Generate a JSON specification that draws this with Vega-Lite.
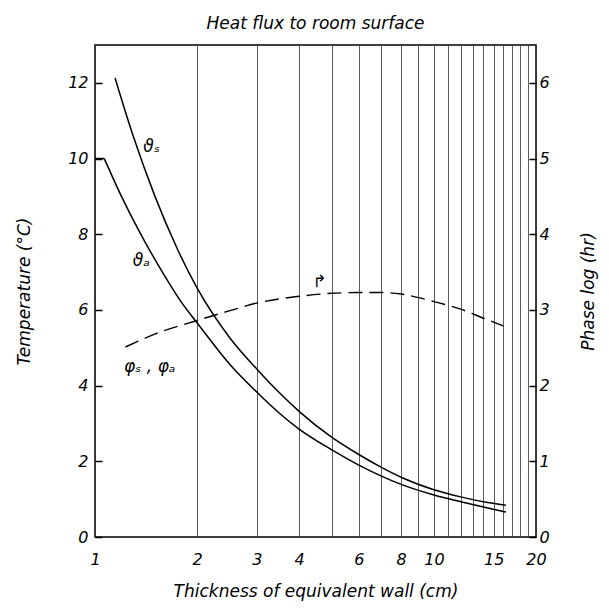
{
  "$schema": "https://vega.github.io/schema/vega-lite/v6.json",
  "width": 441,
  "height": 492,
  "autosize": {"type": "none"},
  "padding": {"left": 95, "top": 45, "right": 73, "bottom": 77},
  "background": "white",
  "title": {"text": "Heat flux to room surface", "font": "DejaVu Sans", "fontSize": 17, "fontStyle": "italic", "fontWeight": "normal", "color": "black", "offset": 12},
  "config": {
    "view": {"stroke": "black", "strokeWidth": 1.5},
    "font": "DejaVu Sans",
    "axis": {
      "labelFont": "DejaVu Sans", "labelFontSize": 16, "labelFontStyle": "italic", "labelColor": "black",
      "titleFont": "DejaVu Sans", "titleFontSize": 17, "titleFontStyle": "italic", "titleFontWeight": "normal", "titleColor": "black",
      "domain": false, "tickColor": "black"
    }
  },
  "datasets": {
    "temps": [
      {"x": 1.146, "T": 12.13, "series": "vs"},
      {"x": 1.3, "T": 10.56, "series": "vs"},
      {"x": 1.5, "T": 9.02, "series": "vs"},
      {"x": 1.75, "T": 7.61, "series": "vs"},
      {"x": 2, "T": 6.58, "series": "vs"},
      {"x": 2.5, "T": 5.26, "series": "vs"},
      {"x": 3, "T": 4.44, "series": "vs"},
      {"x": 3.5, "T": 3.81, "series": "vs"},
      {"x": 4, "T": 3.32, "series": "vs"},
      {"x": 5, "T": 2.63, "series": "vs"},
      {"x": 6, "T": 2.18, "series": "vs"},
      {"x": 7, "T": 1.84, "series": "vs"},
      {"x": 8, "T": 1.58, "series": "vs"},
      {"x": 10, "T": 1.25, "series": "vs"},
      {"x": 12, "T": 1.06, "series": "vs"},
      {"x": 14, "T": 0.93, "series": "vs"},
      {"x": 16.3, "T": 0.84, "series": "vs"},
      {"x": 1, "T": 10, "series": "va0"},
      {"x": 1.065, "T": 10, "series": "va0"},
      {"x": 1.065, "T": 10, "series": "va"},
      {"x": 1.2, "T": 8.98, "series": "va"},
      {"x": 1.4, "T": 7.82, "series": "va"},
      {"x": 1.6, "T": 6.92, "series": "va"},
      {"x": 1.8, "T": 6.2, "series": "va"},
      {"x": 2, "T": 5.66, "series": "va"},
      {"x": 2.5, "T": 4.56, "series": "va"},
      {"x": 3, "T": 3.83, "series": "va"},
      {"x": 3.5, "T": 3.27, "series": "va"},
      {"x": 4, "T": 2.85, "series": "va"},
      {"x": 5, "T": 2.3, "series": "va"},
      {"x": 6, "T": 1.9, "series": "va"},
      {"x": 7, "T": 1.61, "series": "va"},
      {"x": 8, "T": 1.39, "series": "va"},
      {"x": 10, "T": 1.11, "series": "va"},
      {"x": 12, "T": 0.93, "series": "va"},
      {"x": 14, "T": 0.79, "series": "va"},
      {"x": 16.3, "T": 0.66, "series": "va"}
    ],
    "phase": [
      {"x": 1.23, "lag": 2.51},
      {"x": 1.5, "lag": 2.68},
      {"x": 2, "lag": 2.86},
      {"x": 2.5, "lag": 2.99},
      {"x": 3, "lag": 3.09},
      {"x": 4, "lag": 3.18},
      {"x": 5, "lag": 3.22},
      {"x": 6, "lag": 3.23},
      {"x": 7, "lag": 3.23},
      {"x": 8, "lag": 3.21},
      {"x": 10, "lag": 3.11},
      {"x": 12, "lag": 3.01},
      {"x": 14, "lag": 2.89},
      {"x": 16, "lag": 2.79}
    ],
    "labels": [
      {"x": 1.47, "T": 10.3, "text": "ϑₛ"},
      {"x": 1.37, "T": 7.3, "text": "ϑₐ"},
      {"x": 1.45, "T": 4.5, "text": "φₛ , φₐ"},
      {"x": 4.6, "T": 6.75, "text": "↱"}
    ]
  },
  "layer": [
    {
      "data": {"name": "temps"},
      "mark": {"type": "line", "color": "black", "strokeWidth": 1.5, "interpolate": "monotone"},
      "encoding": {
        "x": {
          "field": "x", "type": "quantitative",
          "scale": {"type": "log", "domain": [1, 20], "nice": false},
          "axis": {
            "title": "Thickness of equivalent wall (cm)",
            "values": [1, 2, 3, 4, 5, 6, 7, 8, 9, 10, 11, 12, 13, 14, 15, 16, 17, 18, 19, 20],
            "labelExpr": "indexof([1,2,3,4,6,8,10,15,20], datum.value) >= 0 ? datum.value : ''",
            "grid": true, "gridColor": "#333333", "gridWidth": 0.8, "gridOpacity": 1,
            "ticks": false, "labelPadding": 14, "titlePadding": 16, "labelFlush": false
          }
        },
        "y": {
          "field": "T", "type": "quantitative",
          "scale": {"domain": [0, 13], "nice": false},
          "axis": {
            "orient": "left", "title": "Temperature  (°C)",
            "values": [0, 2, 4, 6, 8, 10, 12], "grid": false,
            "tickSize": -7, "tickWidth": 1.5, "labelPadding": 14, "titlePadding": 34
          }
        },
        "detail": {"field": "series"}
      }
    },
    {
      "data": {"name": "phase"},
      "mark": {"type": "line", "color": "black", "strokeWidth": 1.4, "strokeDash": [14, 7], "interpolate": "monotone"},
      "encoding": {
        "x": {"field": "x", "type": "quantitative", "scale": {"type": "log", "domain": [1, 20], "nice": false}},
        "y": {
          "field": "lag", "type": "quantitative",
          "scale": {"domain": [0, 6.5], "nice": false},
          "axis": {
            "orient": "right", "title": "Phase log  (hr)", "titleAngle": 270,
            "values": [0, 1, 2, 3, 4, 5, 6], "grid": false,
            "tickSize": -7, "tickWidth": 1.5, "labelPadding": 10, "titlePadding": 48
          }
        }
      }
    },
    {
      "data": {"name": "labels"},
      "mark": {"type": "text", "font": "DejaVu Sans", "fontSize": 17, "fontStyle": "italic", "color": "black", "align": "center", "baseline": "middle"},
      "encoding": {
        "x": {"field": "x", "type": "quantitative", "scale": {"type": "log", "domain": [1, 20], "nice": false}},
        "y": {"field": "T", "type": "quantitative", "scale": {"domain": [0, 13], "nice": false}, "axis": null},
        "text": {"field": "text"}
      }
    }
  ],
  "resolve": {"scale": {"y": "independent"}}
}
